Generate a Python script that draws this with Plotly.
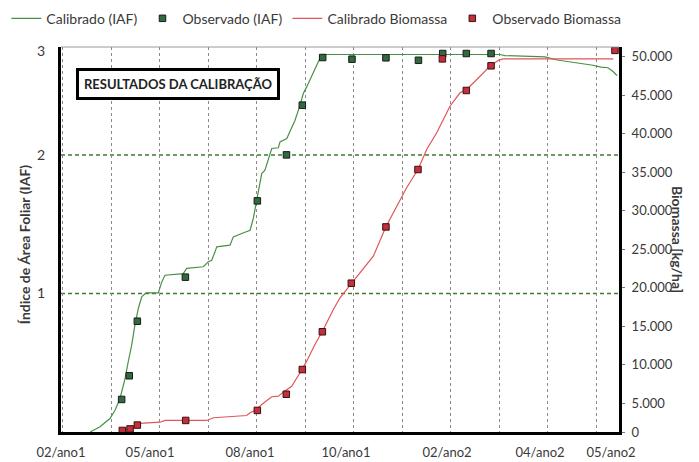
import plotly.graph_objects as go

# ---------------- data (x = days from start of the season) ----------------
iaf_calc_x = [18.0, 21.0, 24.1, 30.3, 33.4, 36.5, 39.6, 41.6, 43.7, 45.7, 47.8, 49.9, 52.6, 60.2,
              62.3, 64.3, 75.6, 77.7, 88.0, 91.1, 93.2, 95.2, 96.3, 104.5, 106.5, 111.7, 116.9,
              118.9, 121.0, 123.0, 124.1, 126.1, 128.2, 130.3, 134.4, 135.4, 139.6, 142.6, 144.7,
              147.8, 149.8, 151.9, 155.0, 158.1, 161.2, 271.4, 274.5, 283.8, 299.3, 306.7, 314.7,
              328.9, 333.9, 338.2, 341.3, 343.8]
iaf_calc_y = [0.0, 0.018, 0.038, 0.097, 0.157, 0.242, 0.386, 0.509, 0.627, 0.771, 0.892, 0.976,
              1.005, 1.005, 1.084, 1.132, 1.144, 1.181, 1.193, 1.229, 1.240, 1.301, 1.337, 1.349,
              1.409, 1.433, 1.457, 1.542, 1.662, 1.782, 1.866, 1.890, 1.975, 2.047, 2.052, 2.095,
              2.119, 2.191, 2.251, 2.360, 2.444, 2.492, 2.565, 2.648, 2.726, 2.726, 2.718, 2.715,
              2.708, 2.686, 2.673, 2.648, 2.635, 2.630, 2.603, 2.574]

iaf_obs_x = [37.5, 42.2, 47.2, 76.9, 121.4, 139.4, 149.2, 161.8, 179.9, 200.9, 221.0, 236.0, 250.6, 265.9]
iaf_obs_y = [0.235, 0.406, 0.800, 1.118, 1.669, 2.001, 2.360, 2.704, 2.692, 2.702, 2.684, 2.733, 2.733, 2.733]

bio_calc_x = [37.5, 40.6, 45.8, 48.8, 61.2, 64.3, 90.1, 94.2, 114.8, 116.9, 121.0, 124.1, 130.3,
              134.4, 137.4, 142.6, 147.8, 151.9, 157.0, 162.2, 168.4, 172.5, 179.5, 184.9, 193.1,
              200.9, 207.6, 213.7, 220.7, 226.1, 232.3, 240.5, 246.7, 250.8, 259.1, 265.2, 270.4,
              273.5, 341.5]
bio_calc_y = [1370, 1630, 2060, 2410, 2570, 2800, 2800, 3150, 3440, 3790, 4220, 4870, 5870,
              5950, 6470, 7240, 8980, 10490, 12650, 14600, 17190, 18710, 20560, 21950, 24100,
              27920, 30590, 32980, 35350, 37940, 40110, 43560, 45300, 45730, 47450, 48750, 49530,
              49710, 49710]

bio_obs_x = [37.9, 42.7, 47.2, 77.1, 121.4, 139.3, 149.2, 161.6, 179.5, 200.9, 220.7, 235.8, 250.6, 265.9, 342.5]
bio_obs_y = [1500, 1700, 2200, 2800, 4100, 6200, 9400, 14300, 20600, 27900, 35350, 49700, 45600, 48800, 50800]

x_tick_vals = [0, 55.0, 116.9, 176.2, 238.7, 296.2, 340.1]
x_tick_text = ["02/ano1", "05/ano1", "08/ano1", "10/ano1", "02/ano2", "04/ano2", "05/ano2"]

iaf_tick_vals = [1, 2, 2.75]
iaf_tick_text = ["1", "2", "3"]

bio_tick_vals = [1300, 5000, 10000, 15000, 20000, 25000, 30000, 35000, 40000, 45000, 50000]
bio_tick_text = ["0", "5.000", "10.000", "15.000", "20.000", "25.000", "30.000",
                 "35.000", "40.000", "45.000", "50.000"]

iaf_grid_levels = [1, 2]

# ---------------- styles ----------------
FONT = "Lato"
GREEN = "#4a8f47"
GREEN_MK = "#2f6b3f"
RED = "#e0565a"
RED_MK = "#c3303c"
TXT = "#3a3a3a"

fig = go.Figure()
fig.add_trace(go.Scatter(x=iaf_calc_x, y=iaf_calc_y, mode="lines", name="Calibrado (IAF)",
                         line=dict(color=GREEN, width=1.2), yaxis="y"))
fig.add_trace(go.Scatter(x=iaf_obs_x, y=iaf_obs_y, mode="markers", name="Observado (IAF)",
                         marker=dict(symbol="square", size=6.5, color=GREEN_MK,
                                     line=dict(color="#1a1a1a", width=1)), yaxis="y"))
fig.add_trace(go.Scatter(x=bio_calc_x, y=bio_calc_y, mode="lines", name="Calibrado Biomassa",
                         line=dict(color=RED, width=1.2), yaxis="y2"))
fig.add_trace(go.Scatter(x=bio_obs_x, y=bio_obs_y, mode="markers", name="Observado Biomassa",
                         marker=dict(symbol="square", size=6.5, color=RED_MK,
                                     line=dict(color="#3a1010", width=1)), yaxis="y2"))

shapes = []
for lv in iaf_grid_levels:
    shapes.append(dict(type="line", xref="paper", x0=0, x1=1, yref="y", y0=lv, y1=lv,
                       line=dict(color="#3f7a35", width=1.4, dash="4px,3px"), layer="below"))
shapes.append(dict(type="line", xref="paper", x0=0, x1=1, yref="paper", y0=1, y1=1,
                   line=dict(color="#9a9a9a", width=1)))

fig.update_layout(
    width=699, height=462,
    margin=dict(l=61, r=80, t=47, b=30, autoexpand=False),
    paper_bgcolor="white", plot_bgcolor="white",
    font=dict(family=FONT, size=13, color=TXT),
    showlegend=True,
    legend=dict(orientation="h", x=-0.098, xanchor="left", y=1.115, yanchor="top",
                font=dict(family=FONT, size=14, color=TXT), itemwidth=30,
                bgcolor="rgba(0,0,0,0)"),
    xaxis=dict(range=[0, 345], tickmode="array", tickvals=x_tick_vals, ticktext=x_tick_text,
               showgrid=False, zeroline=False, showline=True, linecolor="black", linewidth=3,
               ticks="", ticklabelstandoff=6, tickfont=dict(family=FONT, size=13, color=TXT),
               minor=dict(tickmode="linear", tick0=1, dtick=30, showgrid=True,
                          gridcolor="#8a8a8a", griddash="3px,3px", gridwidth=1, ticks="")),
    yaxis=dict(range=[0, 2.78], tickmode="array", tickvals=iaf_tick_vals, ticktext=iaf_tick_text,
               showgrid=False, zeroline=False, showline=True, linecolor="black", linewidth=3,
               ticks="", ticklabelstandoff=10, tickfont=dict(family=FONT, size=14, color=TXT)),
    yaxis2=dict(range=[1300, 51240], overlaying="y", side="right", tickmode="array",
                tickvals=bio_tick_vals, ticktext=bio_tick_text, showgrid=False, zeroline=False,
                showline=True, linecolor="black", linewidth=3, ticks="outside", ticklen=3,
                tickcolor="#777", ticklabelstandoff=4,
                tickfont=dict(family=FONT, size=13, color=TXT)),
    shapes=shapes,
    annotations=[
        dict(text="<b>RESULTADOS DA CALIBRAÇÃO</b>", xref="paper", yref="paper",
             x=0.2097, y=0.905, xanchor="center", yanchor="middle", showarrow=False,
             font=dict(family=FONT, size=13, color="#222"), bgcolor="white",
             bordercolor="black", borderwidth=3, borderpad=5),
        dict(text="<b>Índice de Área Foliar (IAF)</b>", xref="paper", yref="paper",
             x=-0.084, y=0.487, textangle=-90, showarrow=False,
             font=dict(family=FONT, size=14, color=TXT)),
        dict(text="<b>Biomassa [kg/ha]</b>", xref="paper", yref="paper",
             x=1.1237, y=0.5, textangle=90, showarrow=False,
             font=dict(family=FONT, size=14, color=TXT)),
    ],
)

fig.write_html("out.html", config={"displayModeBar": False},
               post_script="document.body.style.margin='0';")
